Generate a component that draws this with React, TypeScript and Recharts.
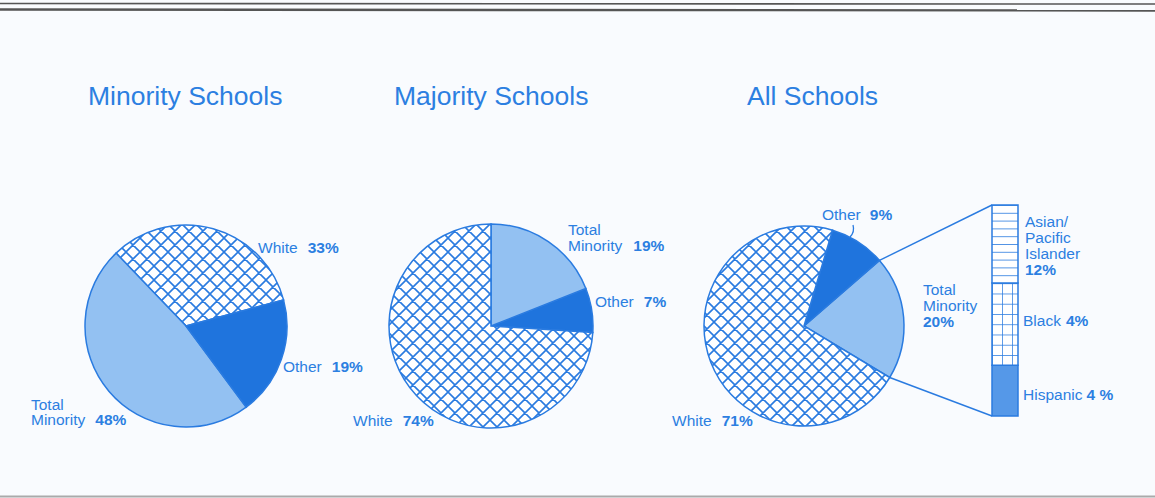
import React from 'react';
import { PieChart, Pie, Cell, BarChart, Bar, XAxis, YAxis } from 'recharts';

// ---------- data ----------
const chartTitles = ['Minority Schools', 'Majority Schools', 'All Schools'];
const minorityNames = ['White', 'Total Minority', 'Other'];
const minorityValues = [33, 48, 19];
const majorityNames = ['Other', 'Total Minority', 'White'];
const majorityValues = [7, 19, 74];
const allNames = ['Total Minority', 'Other', 'White'];
const allValues = [20, 9, 71];
const breakdownNames = ['Hispanic', 'Black', 'Asian/Pacific Islander'];
const breakdownValues = [4, 4, 12];
const breakdownShares = [24, 39, 37]; // share of the bar's height as drawn

// ---------- style / layout ----------
const W = 1155;
const H = 498;
const BLUE = '#2a7be0';
const TEXT = '#2c7fe1';
const LIGHT = '#93c1f2';
const DARK = '#1f74dd';
const MID = '#5598e8';
const BG = '#f9fbfe';
const FONT = '"Liberation Sans", Arial, Helvetica, sans-serif';
const FS = 15.5;
const HT = 14; // crosshatch tile

const fillFor = (name: string) =>
  name === 'White' ? 'url(#xhatch)' : name === 'Other' ? DARK : LIGHT;

const pies = [
  { key: 'min', names: minorityNames, values: minorityValues, cx: 186, cy: 326, r: 101, start: 15 },
  { key: 'maj', names: majorityNames, values: majorityValues, cx: 491, cy: 326, r: 102, start: -3.6 },
  { key: 'all', names: allNames, values: allValues, cx: 804, cy: 326, r: 100, start: -31 },
];

const BAR_LEFT = 991;
const BAR_TOP = 204;
const BAR_W = 28;
const BAR_H = 213;
const BAR_M = 1;

const barRow: Record<string, any> = { name: 'Total Minority' };
breakdownNames.forEach((n, i) => {
  barRow[n] = breakdownShares[i];
});
const barData = [barRow];
const barFills = ['url(#hisp)', 'url(#grid)', 'url(#hlines)'];

export default function App() {
  // connectors from the "Total Minority" slice of the All Schools pie to the bar
  const p = pies[2];
  const tmIdx = allNames.indexOf('Total Minority');
  const total = allValues.reduce((a, b) => a + b, 0);
  const before = allValues.slice(0, tmIdx).reduce((a, b) => a + b, 0);
  const a0 = ((p.start + (before / total) * 360) * Math.PI) / 180;
  const a1 = ((p.start + ((before + allValues[tmIdx]) / total) * 360) * Math.PI) / 180;
  const pt = (a: number) => [p.cx + p.r * Math.cos(a), p.cy - p.r * Math.sin(a)];
  const [x0, y0] = pt(a0);
  const [x1, y1] = pt(a1);
  const barX = BAR_LEFT + BAR_M;
  const barTopY = BAR_TOP + BAR_M;
  const barBotY = BAR_TOP + BAR_H - BAR_M;

  const txt = { fill: TEXT, fontFamily: FONT, fontSize: FS } as const;
  const hatchPath =
    `M0,0 L${HT},${HT} M${HT},0 L0,${HT} ` +
    `M-1,${HT - 1} L1,${HT + 1} M${HT - 1},-1 L${HT + 1},1 ` +
    `M-1,1 L1,-1 M${HT - 1},${HT + 1} L${HT + 1},${HT - 1}`;

  return (
    <div
      style={{
        position: 'absolute',
        left: 0,
        top: 0,
        width: W,
        height: H,
        background: BG,
        overflow: 'hidden',
        fontFamily: FONT,
      }}
    >
      <svg width={W} height={H} style={{ position: 'absolute', left: 0, top: 0 }}>
        <defs>
          <pattern id="xhatch" patternUnits="userSpaceOnUse" width={HT} height={HT}>
            <rect width={HT} height={HT} fill="#ffffff" />
            <path d={hatchPath} stroke={BLUE} strokeWidth={1.6} />
          </pattern>
          <pattern id="hlines" patternUnits="userSpaceOnUse" x={0} y={1} width={10} height={7.8}>
            <rect width={10} height={7.8} fill="#ffffff" />
            <line x1={0} y1={0} x2={10} y2={0} stroke={BLUE} strokeWidth={1.6} />
          </pattern>
          <pattern id="grid" patternUnits="userSpaceOnUse" x={1} y={7.5} width={10} height={10.25}>
            <rect width={10} height={10.25} fill="#ffffff" />
            <line x1={0} y1={0} x2={10} y2={0} stroke={BLUE} strokeWidth={1.5} />
            <line x1={0} y1={0} x2={0} y2={10.25} stroke={BLUE} strokeWidth={1.5} />
          </pattern>
          <pattern id="hisp" patternUnits="userSpaceOnUse" width={10} height={10}>
            <rect width={10} height={10} fill={MID} />
          </pattern>
        </defs>

        {/* rules */}
        <line x1={0} y1={3.5} x2={W} y2={4} stroke="#555" strokeWidth={1.6} />
        <line x1={0} y1={9.5} x2={W} y2={10.5} stroke="#555" strokeWidth={2.4} />
        <line x1={0} y1={496.5} x2={W} y2={496.5} stroke="#aaa" strokeWidth={2} />

        {/* titles */}
        <text x={88} y={105} fill={TEXT} fontFamily={FONT} fontSize={26.5}>{chartTitles[0]}</text>
        <text x={394} y={105} fill={TEXT} fontFamily={FONT} fontSize={26.5}>{chartTitles[1]}</text>
        <text x={747} y={105} fill={TEXT} fontFamily={FONT} fontSize={26.5}>{chartTitles[2]}</text>

        {/* Minority schools labels */}
        <text x={258} y={253} {...txt}>
          {minorityNames[0]}
          <tspan dx={10} fontWeight="bold">{minorityValues[0]}%</tspan>
        </text>
        <text x={283} y={372} {...txt}>
          {minorityNames[2]}
          <tspan dx={10} fontWeight="bold">{minorityValues[2]}%</tspan>
        </text>
        <text x={31} y={410} {...txt}>Total</text>
        <text x={31} y={425} {...txt}>
          Minority
          <tspan dx={10} fontWeight="bold">{minorityValues[1]}%</tspan>
        </text>

        {/* Majority schools labels */}
        <text x={568} y={235} {...txt}>Total</text>
        <text x={568} y={251} {...txt}>
          Minority
          <tspan dx={11} fontWeight="bold">{majorityValues[1]}%</tspan>
        </text>
        <text x={595} y={307} {...txt}>
          {majorityNames[0]}
          <tspan dx={10} fontWeight="bold">{majorityValues[0]}%</tspan>
        </text>
        <text x={353} y={426} {...txt}>
          {majorityNames[2]}
          <tspan dx={10} fontWeight="bold">{majorityValues[2]}%</tspan>
        </text>

        {/* All schools labels */}
        <text x={822} y={220} {...txt}>
          {allNames[1]}
          <tspan dx={9} fontWeight="bold">{allValues[1]}%</tspan>
        </text>
        <path d="M853,225 Q855,232 850,237" stroke={BLUE} strokeWidth={1.3} fill="none" />
        <text x={923} y={295} {...txt}>Total</text>
        <text x={923} y={311} {...txt}>Minority</text>
        <text x={923} y={327} {...txt} fontWeight="bold">{allValues[0]}%</text>
        <text x={672} y={426} {...txt}>
          {allNames[2]}
          <tspan dx={10} fontWeight="bold">{allValues[2]}%</tspan>
        </text>

        {/* connectors */}
        <line x1={x1} y1={y1} x2={barX} y2={barTopY} stroke={BLUE} strokeWidth={1.4} />
        <line x1={x0} y1={y0} x2={barX} y2={barBotY} stroke={BLUE} strokeWidth={1.4} />

        {/* breakdown labels */}
        <text x={1025} y={227} {...txt}>Asian/</text>
        <text x={1025} y={243} {...txt}>Pacific</text>
        <text x={1025} y={259} {...txt}>Islander</text>
        <text x={1025} y={275} {...txt} fontWeight="bold">{breakdownValues[2]}%</text>
        <text x={1023} y={326} {...txt}>
          {breakdownNames[1]}
          <tspan dx={5} fontWeight="bold">{breakdownValues[1]}%</tspan>
        </text>
        <text x={1023} y={400} {...txt}>
          {breakdownNames[0]}
          <tspan dx={4} fontWeight="bold">{breakdownValues[0]} %</tspan>
        </text>
      </svg>

      <div style={{ position: 'absolute', left: 0, top: 0 }}>
        <PieChart width={W} height={H} margin={{ top: 0, right: 0, bottom: 0, left: 0 }}>
          {pies.map((pp) => {
            const data = pp.names.map((n, i) => ({ name: n, value: pp.values[i] }));
            return (
              <Pie
                key={pp.key}
                data={data}
                dataKey="value"
                nameKey="name"
                cx={pp.cx}
                cy={pp.cy}
                outerRadius={pp.r}
                innerRadius={0}
                startAngle={pp.start}
                endAngle={pp.start + 360}
                isAnimationActive={false}
                stroke={BLUE}
                strokeWidth={1.5}
                labelLine={false}
                label={false}
              >
                {data.map((d) => (
                  <Cell key={d.name} fill={fillFor(d.name)} stroke={BLUE} strokeWidth={1.5} />
                ))}
              </Pie>
            );
          })}
        </PieChart>
      </div>

      <div style={{ position: 'absolute', left: BAR_LEFT, top: BAR_TOP }}>
        <BarChart
          width={BAR_W}
          height={BAR_H}
          data={barData}
          margin={{ top: BAR_M, right: BAR_M, bottom: BAR_M, left: BAR_M }}
          barCategoryGap={0}
        >
          <XAxis dataKey="name" hide />
          <YAxis type="number" domain={[0, 100]} hide />
          {breakdownNames.map((n, i) => (
            <Bar
              key={n}
              dataKey={n}
              stackId="a"
              fill={barFills[i]}
              stroke={BLUE}
              strokeWidth={1.5}
              isAnimationActive={false}
            />
          ))}
        </BarChart>
      </div>
    </div>
  );
}
